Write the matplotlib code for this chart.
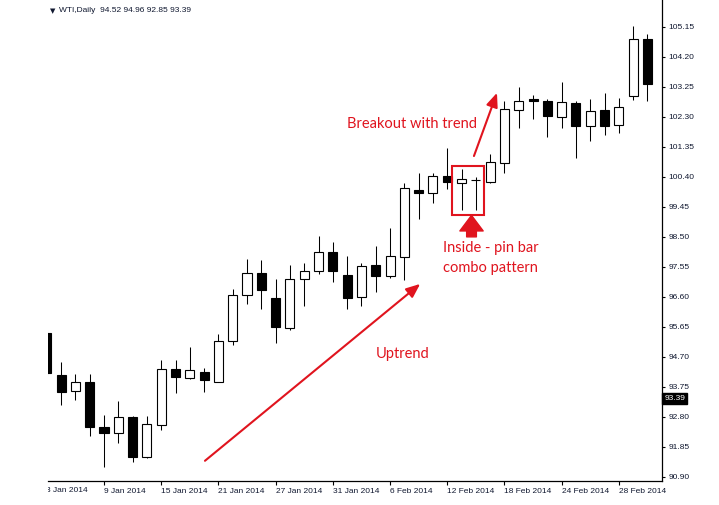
import matplotlib
matplotlib.use('Agg')
import matplotlib.pyplot as plt
from matplotlib.transforms import Bbox, TransformedBbox, blended_transform_factory
import numpy as np

# daily WTI bars, 3 Jan .. 4 Mar 2014
dates = ['3 Jan', '6 Jan', '7 Jan', '8 Jan', '9 Jan', '10 Jan',
         '13 Jan', '14 Jan', '15 Jan', '16 Jan', '17 Jan',
         '20 Jan', '21 Jan', '22 Jan', '23 Jan', '24 Jan',
         '27 Jan', '28 Jan', '29 Jan', '30 Jan', '31 Jan',
         '3 Feb', '4 Feb', '5 Feb', '6 Feb', '7 Feb',
         '10 Feb', '11 Feb', '12 Feb', '13 Feb', '14 Feb',
         '17 Feb', '18 Feb', '19 Feb', '20 Feb', '21 Feb',
         '24 Feb', '25 Feb', '26 Feb', '27 Feb', '28 Feb',
         '3 Mar', '4 Mar']
opens = [95.46, 94.13, 93.62, 93.91, 92.48, 92.29,
         92.80, 91.53, 92.55, 94.32, 94.03,
         94.22, 93.91, 95.21, 96.66, 97.36,
         96.57, 95.62, 97.17, 97.42, 98.02,
         97.30, 96.60, 97.61, 97.26, 97.87,
         99.99, 99.89, 100.43, 100.21, 100.29,
         100.24, 100.84, 102.52, 102.87, 102.81,
         102.30, 102.74, 102.01, 102.52, 102.05,
         102.96, 104.77]
highs = [95.55, 94.54, 94.16, 94.16, 92.86, 93.31,
         92.83, 92.83, 94.60, 94.60, 95.02,
         94.35, 95.43, 96.85, 97.80, 97.77,
         97.17, 97.61, 97.68, 98.53, 98.34,
         97.90, 97.68, 98.21, 98.78, 100.21,
         100.53, 100.53, 101.32, 100.65, 100.40,
         101.13, 102.81, 103.25, 103.00, 102.87,
         103.41, 102.81, 102.87, 103.06, 102.90,
         105.18, 104.93]
lows = [94.10, 93.18, 93.34, 92.20, 91.22, 91.98,
        91.38, 91.50, 92.39, 93.56, 94.00,
        93.59, 93.90, 95.08, 96.38, 96.22,
        95.14, 95.55, 96.31, 97.33, 97.07,
        96.22, 96.31, 96.76, 97.20, 97.14,
        99.07, 99.58, 100.02, 99.35, 99.35,
        100.21, 100.53, 101.95, 102.24, 101.67,
        101.95, 101.00, 101.54, 101.73, 101.79,
        102.83, 102.81]
closes = [94.19, 93.59, 93.91, 92.48, 92.29, 92.80,
          91.53, 92.58, 94.32, 94.07, 94.29,
          93.97, 95.21, 96.66, 97.36, 96.82,
          95.65, 97.17, 97.42, 98.02, 97.42,
          96.57, 97.58, 97.26, 97.90, 100.05,
          99.89, 100.43, 100.24, 100.34, 100.31,
          100.87, 102.55, 102.81, 102.81, 102.33,
          102.77, 102.01, 102.49, 102.01, 102.62,
          104.77, 103.34]

price_ticks = [90.90, 91.85, 92.80, 93.75, 94.70, 95.65, 96.60, 97.55,
               98.50, 99.45, 100.40, 101.35, 102.30, 103.25, 104.20, 105.15]
label_every = 4
last_price = 93.39
header = 'WTI,Daily  94.52 94.96 92.85 93.39'

RED = '#e0141e'
TXT = '#101830'
W, H = 719, 505

fig = plt.figure(figsize=(W / 100, H / 100), dpi=100)
ax = fig.add_axes([48 / W, 24 / H, (662 - 48) / W, 481 / H])

x = np.arange(len(dates))
o, h, l, c = map(np.array, (opens, highs, lows, closes))
up = c >= o

ax.vlines(x, l, h, color='black', lw=0.75, zorder=1)
ax.bar(x, np.abs(c - o), bottom=np.minimum(o, c), width=0.63,
       color=np.where(up, 'white', 'black'), edgecolor='black',
       linewidth=0.8, zorder=2)

ax.set_xlim(0.084, 43.02)
ax.set_ylim(90.77, 106.0)

for s in ['left', 'top']:
    ax.spines[s].set_visible(False)
for s in ['right', 'bottom']:
    ax.spines[s].set_linewidth(0.9)

ax.yaxis.tick_right()
ax.set_yticks(price_ticks)
ax.set_yticklabels(['%.2f' % v for v in price_ticks])
ax.tick_params(axis='y', direction='out', length=2, pad=2.5, labelsize=6,
               labelcolor=TXT, width=0.8)

xt = list(range(label_every, len(dates), label_every))
ax.set_xticks(xt)
ax.set_xticklabels([dates[i] + ' 2014' for i in xt], ha='left')
ax.tick_params(axis='x', direction='out', length=3, pad=2, labelsize=6,
               labelcolor=TXT, width=0.8)
for lab in ax.get_xticklabels():
    lab.set_fontfamily('Liberation Sans')
    lab.set_x(lab.get_position()[0])
for lab in ax.get_yticklabels():
    lab.set_fontfamily('Liberation Sans')

# first date label, cut by the left edge of the chart
bx = blended_transform_factory(ax.transData, ax.transAxes)
t0 = ax.text(-0.08, -0.0125, dates[0] + ' 2014', transform=bx, ha='left',
             va='top', fontsize=6, color=TXT, family='Liberation Sans',
             clip_on=True)
t0.set_clip_box(TransformedBbox(Bbox([[48 / W, 0], [1, 1]]), fig.transFigure))

# last price marker
by = blended_transform_factory(ax.transAxes, ax.transData)
ax.text(1.004, last_price, '%.2f' % last_price, transform=by, ha='left',
        va='center', fontsize=6, color='white', family='Liberation Sans',
        bbox=dict(boxstyle='square,pad=0.25', fc='black', ec='black'),
        clip_on=False)

# header
fig.text(50 / W, 1 - 11 / H, '\u25bc', fontsize=5, color=TXT, va='center')
fig.text(59 / W, 1 - 11 / H, header, fontsize=6, color=TXT, va='center',
         family='Liberation Sans')

# annotations
ax.add_patch(plt.Rectangle((28.33, 99.20), 2.24, 1.55, fill=False,
                           ec=RED, lw=1.5, zorder=4))
ax.annotate('', xy=(29.7, 99.18), xytext=(29.7, 98.50),
            arrowprops=dict(arrowstyle='simple,head_length=0.8,head_width=1.2,tail_width=0.5',
                            fc=RED, ec=RED, mutation_scale=14, shrinkA=0, shrinkB=0))
ax.annotate('', xy=(31.48, 103.06), xytext=(29.87, 101.06),
            arrowprops=dict(arrowstyle='-|>,head_length=0.6,head_width=0.25',
                            color=RED, lw=1.5, mutation_scale=14, shrinkA=0, shrinkB=0))
ax.annotate('', xy=(26.11, 97.01), xytext=(11.06, 91.41),
            arrowprops=dict(arrowstyle='-|>,head_length=0.6,head_width=0.25',
                            color=RED, lw=1.5, mutation_scale=14, shrinkA=0, shrinkB=0))

fs = 10.5
ax.text(21.0, 102.08, 'Breakout with trend', color=RED, fontsize=fs,
        family='Lato', va='center')
ax.text(23.02, 94.79, 'Uptrend', color=RED, fontsize=fs, family='Lato',
        va='center')
ax.text(27.71, 98.15, 'Inside - pin bar', color=RED, fontsize=fs,
        family='Lato', va='center')
ax.text(27.71, 97.52, 'combo pattern', color=RED, fontsize=fs,
        family='Lato', va='center')

fig.savefig('out.png', dpi=100)
